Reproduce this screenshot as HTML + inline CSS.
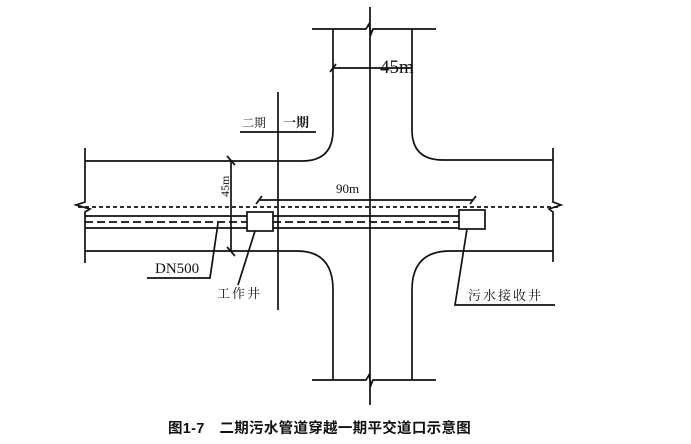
<!DOCTYPE html>
<html><head><meta charset="utf-8"><style>
html,body{margin:0;padding:0;background:#fff;}
svg{display:block;}
text{font-family:"Liberation Serif","Noto Serif CJK SC",serif;fill:#111;}
</style></head><body>
<svg width="691" height="444" viewBox="0 0 691 444" xmlns="http://www.w3.org/2000/svg">
<g stroke="#111" stroke-width="1.7" fill="none">
<path d="M370 7 V405"/>
<path d="M312 29 H366 L369 24 L371 34 L373 29 H436"/>
<path d="M312 380 H366 L369 375 L371 385 L373 380 H436"/>
<path d="M333 29 V130 Q333 161 302 161 H85"/>
<path d="M412 29 V130 Q412 160 443 160 H553"/>
<path d="M85 251 H297 Q333 251 333 290 V380"/>
<path d="M553 251 H450 Q412 251 412 290 V380"/>
<path d="M85 148 V202 L76 205 L90 209 L85 212 V263"/>
<path d="M553 148 V202 L561 205 L549 209 L553 212 V262"/>
<path d="M78 207 H560" stroke-dasharray="4,3"/>
<path d="M85 216 H247 M85 228 H247 M273 216 H459 M273 228 H459"/>
<path d="M85 222 H247 M273 222 H459" stroke-dasharray="8,4"/>
<rect x="247" y="212" width="26" height="19"/>
<rect x="459" y="210" width="26" height="19"/>
<path d="M278 92 V310"/>
<path d="M240 132 H316"/>
<path d="M231 160 V252"/>
<path d="M227 156 L235 165 M227 247 L235 256"/>
<path d="M259 200 H473"/>
<path d="M256 204 L262 196 M470 204 L476 196"/>
<path d="M333 68 H412"/>
<path d="M330 72 L336 64"/>
<path d="M218 223 L210 278 H147"/>
<path d="M255 231 L238 285"/>
<path d="M467 229 L455 305 H555"/>
</g>
<text x="380" y="73" font-size="19">45m</text>
<text x="336" y="193" font-size="13">90m</text>
<text transform="translate(229,197) rotate(-90)" font-size="12">45m</text>
<text x="242" y="127" font-size="12" fill="#333">二期</text>
<text x="283" y="127" font-size="13" font-weight="bold">一期</text>
<text x="155" y="273" font-size="15">DN500</text>
<text x="217" y="298" font-size="13" letter-spacing="2">工作井</text>
<text x="468" y="300" font-size="13" letter-spacing="2">污水接收井</text>
<text x="168" y="433" font-size="14.5" font-weight="bold" letter-spacing="0.3" style="font-family:'Liberation Sans','Noto Sans CJK SC',sans-serif">图1-7　二期污水管道穿越一期平交道口示意图</text>
</svg>
</body></html>
